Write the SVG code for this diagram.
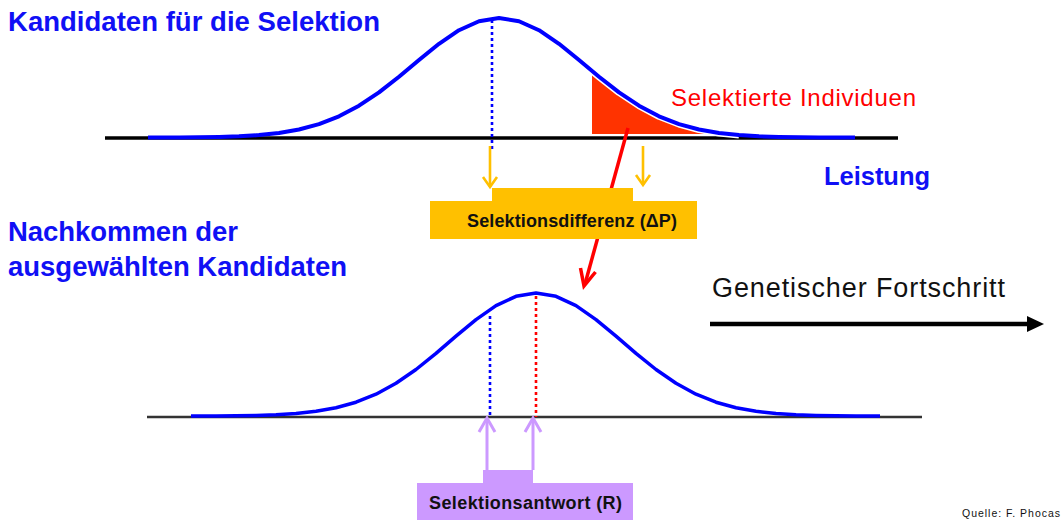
<svg xmlns="http://www.w3.org/2000/svg" width="1063" height="520" viewBox="0 0 1063 520">
<defs>
<style>
.title{font-family:"Liberation Sans",Arial,sans-serif;font-weight:bold;fill:#1010F5;font-size:27.5px}
.lbl{font-family:"Liberation Sans",Arial,sans-serif;font-weight:bold;fill:#111;font-size:18px}
.curve{fill:none;stroke:#0000FF;stroke-width:4;stroke-linejoin:round}
.halo{fill:none;stroke:#fff;stroke-width:7;stroke-linejoin:round}
.dot{stroke-width:2.6;stroke-dasharray:3 3;fill:none}
.orange{stroke:#FFC000;stroke-width:2.6;fill:none}
.purple{stroke:#CC99FF;stroke-width:3;fill:none}
</style>
</defs>
<rect width="1063" height="520" fill="#fff"/>

<g id="top-distribution">
<line x1="105" y1="138" x2="898" y2="138" stroke="#000" stroke-width="3.5"/>
<polygon fill="#FF3300" points="592,71 599,76.7 619,92.4 639,105.7 659,116.3 679,124.1 699,129.5 719,133 719,134 592,134"/>
<polyline class="halo" points="592,71 599,76.7 619,92.4 639,105.7 659,116.3 679,124.1 699,129.5 719,133 739,135.1"/>
<polyline class="curve" points="148,137.5 179,137.5 199,137.2 219,136.9 239,136.3 259,135.1 279,133 299,129.5 319,124.1 339,116.3 359,105.7 379,92.4 399,76.7 419,60 439,43.8 459,30.2 479,21.2 499,18 519,21.2 539,30.2 559,43.8 579,60 599,76.7 619,92.4 639,105.7 659,116.3 679,124.1 699,129.5 719,133 739,135.1 759,136.3 779,136.9 799,137.2 819,137.5 855,137.5"/>
<line class="dot" x1="492" y1="20" x2="492" y2="150" stroke="#0000FF"/>
</g>

<g id="bottom-distribution">
<line x1="147" y1="417" x2="922" y2="417" stroke="#333" stroke-width="2.5"/>
<polyline class="curve" style="stroke-width:3.5" points="191,416 216,416 236,415.7 256,415.4 276,414.7 296,413.5 316,411.3 336,407.8 356,402.2 376,394.2 396,383.3 416,369.5 436,353.4 456,336.2 476,319.6 496,305.6 516,296.3 536,293 556,296.3 576,305.6 596,319.6 616,336.2 636,353.4 656,369.5 676,383.3 696,394.2 716,402.2 736,407.8 756,411.3 776,413.5 796,414.7 816,415.4 836,415.7 856,416 880,416"/>
<line class="dot" x1="490" y1="316" x2="490" y2="417" stroke="#0000FF"/>
<line class="dot" x1="536" y1="296" x2="536" y2="417" stroke="#FF0000"/>
</g>

<g id="connectors">
<line class="orange" x1="490" y1="146" x2="490" y2="187"/>
<polyline class="orange" points="483,177 490,187 497,177"/>
<line class="orange" x1="643" y1="146" x2="643" y2="185"/>
<polyline class="orange" points="636,175 643,185 650,175"/>
<line class="purple" x1="487" y1="470" x2="487" y2="419"/>
<polyline class="purple" points="479,432 487,418 495,432"/>
<line class="purple" x1="533" y1="470" x2="533" y2="419"/>
<polyline class="purple" points="525,432 533,418 541,432"/>
<line x1="628" y1="128" x2="585" y2="284" stroke="#FF0000" stroke-width="3.5"/>
<polyline points="595.5,272 584,286 580.5,268" fill="none" stroke="#FF0000" stroke-width="3.5" stroke-linejoin="miter"/>
</g>

<g id="title-top"><text class="title" x="8" y="31" textLength="372">Kandidaten für die Selektion</text></g>
<g id="title-bottom">
<text class="title" x="8" y="241" textLength="230">Nachkommen der</text>
<text class="title" x="8" y="276" textLength="339">ausgewählten Kandidaten</text>
</g>
<g id="leistung"><text class="title" x="824" y="185" textLength="106" style="font-size:25.5px">Leistung</text></g>
<g id="selektierte"><text x="671" y="106" textLength="245" style="font-family:'Liberation Sans',Arial,sans-serif;font-size:24px;fill:#FF0000">Selektierte Individuen</text></g>

<g id="selektionsdifferenz">
<rect x="492" y="188" width="141" height="14" fill="#FFC000"/>
<rect x="430" y="201" width="267" height="38" fill="#FFC000"/>
<text class="lbl" x="467" y="227" textLength="210">Selektionsdifferenz (ΔP)</text>
</g>

<g id="selektionsantwort">
<rect x="483" y="470" width="50" height="14" fill="#CC99FF"/>
<rect x="417" y="483" width="216" height="37" fill="#CC99FF"/>
<text class="lbl" x="429" y="509" textLength="193">Selektionsantwort (R)</text>
</g>

<g id="fortschritt">
<text x="712" y="297" textLength="293" style="font-family:'Liberation Sans',Arial,sans-serif;font-size:27px;fill:#111">Genetischer Fortschritt</text>
<line x1="710" y1="324" x2="1030" y2="324" stroke="#000" stroke-width="4.5"/>
<polygon points="1027,316 1044,324 1027,332" fill="#000"/>
</g>

<g id="quelle"><text x="962" y="517" textLength="98" style="font-family:'Liberation Sans',Arial,sans-serif;font-size:10.5px;fill:#111">Quelle: F. Phocas</text></g>
</svg>
